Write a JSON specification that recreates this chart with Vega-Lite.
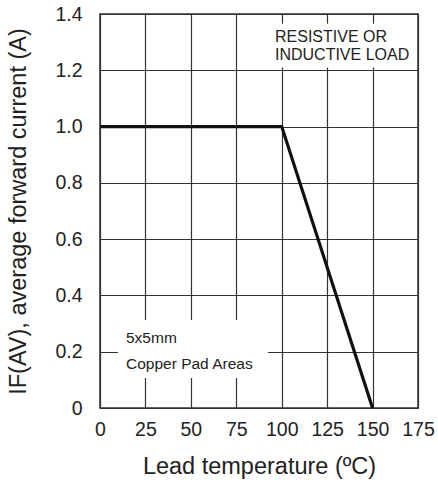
{
  "$schema": "https://vega.github.io/schema/vega-lite/v6.json",
  "width": 318,
  "height": 394,
  "autosize": {"type": "none"},
  "padding": {"left": 100, "top": 14, "right": 20, "bottom": 75},
  "background": "white",
  "config": {
    "view": {"stroke": "#333", "strokeWidth": 1.5},
    "axis": {
      "domain": false,
      "ticks": false,
      "grid": true,
      "gridColor": "#333",
      "gridWidth": 1.2,
      "gridOpacity": 1,
      "labelFont": "Liberation Sans",
      "labelFontSize": 19.5,
      "labelColor": "#222",
      "labelFlush": false,
      "labelOverlap": false,
      "labelBound": false,
      "titleFont": "Liberation Sans",
      "titleFontSize": 23.5,
      "titleFontWeight": "normal",
      "titleColor": "#222"
    }
  },
  "datasets": {
    "curve": [
      {"temp": 0, "current": 1.0},
      {"temp": 100, "current": 1.0},
      {"temp": 150, "current": 0}
    ],
    "boxes": [
      {"x1": 80, "x2": 174.3, "y1": 1.21, "y2": 1.365},
      {"x1": 9.9, "x2": 92.5, "y1": 0.107, "y2": 0.313}
    ],
    "loadNotes": [
      {"tx": 96.3, "ty": 1.301, "label": "RESISTIVE OR"},
      {"tx": 96.3, "ty": 1.236, "label": "INDUCTIVE LOAD"}
    ],
    "padNotes": [
      {"tx": 14.3, "ty": 0.231, "label": "5x5mm"},
      {"tx": 14.3, "ty": 0.1386, "label": "Copper Pad Areas"}
    ]
  },
  "layer": [
    {
      "data": {"name": "boxes"},
      "mark": {"type": "rect", "fill": "white", "stroke": null},
      "encoding": {
        "x": {"field": "x1", "type": "quantitative", "scale": {"domain": [0, 175], "nice": false},
              "axis": {"values": [0, 25, 50, 75, 100, 125, 150, 175], "title": "Lead temperature (ºC)", "labelPadding": 12, "titlePadding": 16}},
        "x2": {"field": "x2"},
        "y": {"field": "y1", "type": "quantitative", "scale": {"domain": [0, 1.4], "nice": false},
              "axis": {"values": [0, 0.2, 0.4, 0.6, 0.8, 1.0, 1.2, 1.4], "labelExpr": "datum.value == 0 ? '0' : format(datum.value, '.1f')", "title": "IF(AV), average forward current (A)", "labelPadding": 18, "titlePadding": 24}},
        "y2": {"field": "y2"}
      }
    },
    {
      "data": {"name": "curve"},
      "mark": {"type": "line", "color": "#111", "strokeWidth": 3.2},
      "encoding": {
        "x": {"field": "temp", "type": "quantitative"},
        "y": {"field": "current", "type": "quantitative"}
      }
    },
    {
      "data": {"name": "loadNotes"},
      "mark": {"type": "text", "align": "left", "baseline": "alphabetic", "font": "Liberation Sans", "fontSize": 16, "color": "#222"},
      "encoding": {
        "x": {"field": "tx", "type": "quantitative"},
        "y": {"field": "ty", "type": "quantitative"},
        "text": {"field": "label"}
      }
    },
    {
      "data": {"name": "padNotes"},
      "mark": {"type": "text", "align": "left", "baseline": "alphabetic", "font": "Liberation Sans", "fontSize": 15.5, "color": "#222"},
      "encoding": {
        "x": {"field": "tx", "type": "quantitative"},
        "y": {"field": "ty", "type": "quantitative"},
        "text": {"field": "label"}
      }
    }
  ]
}
